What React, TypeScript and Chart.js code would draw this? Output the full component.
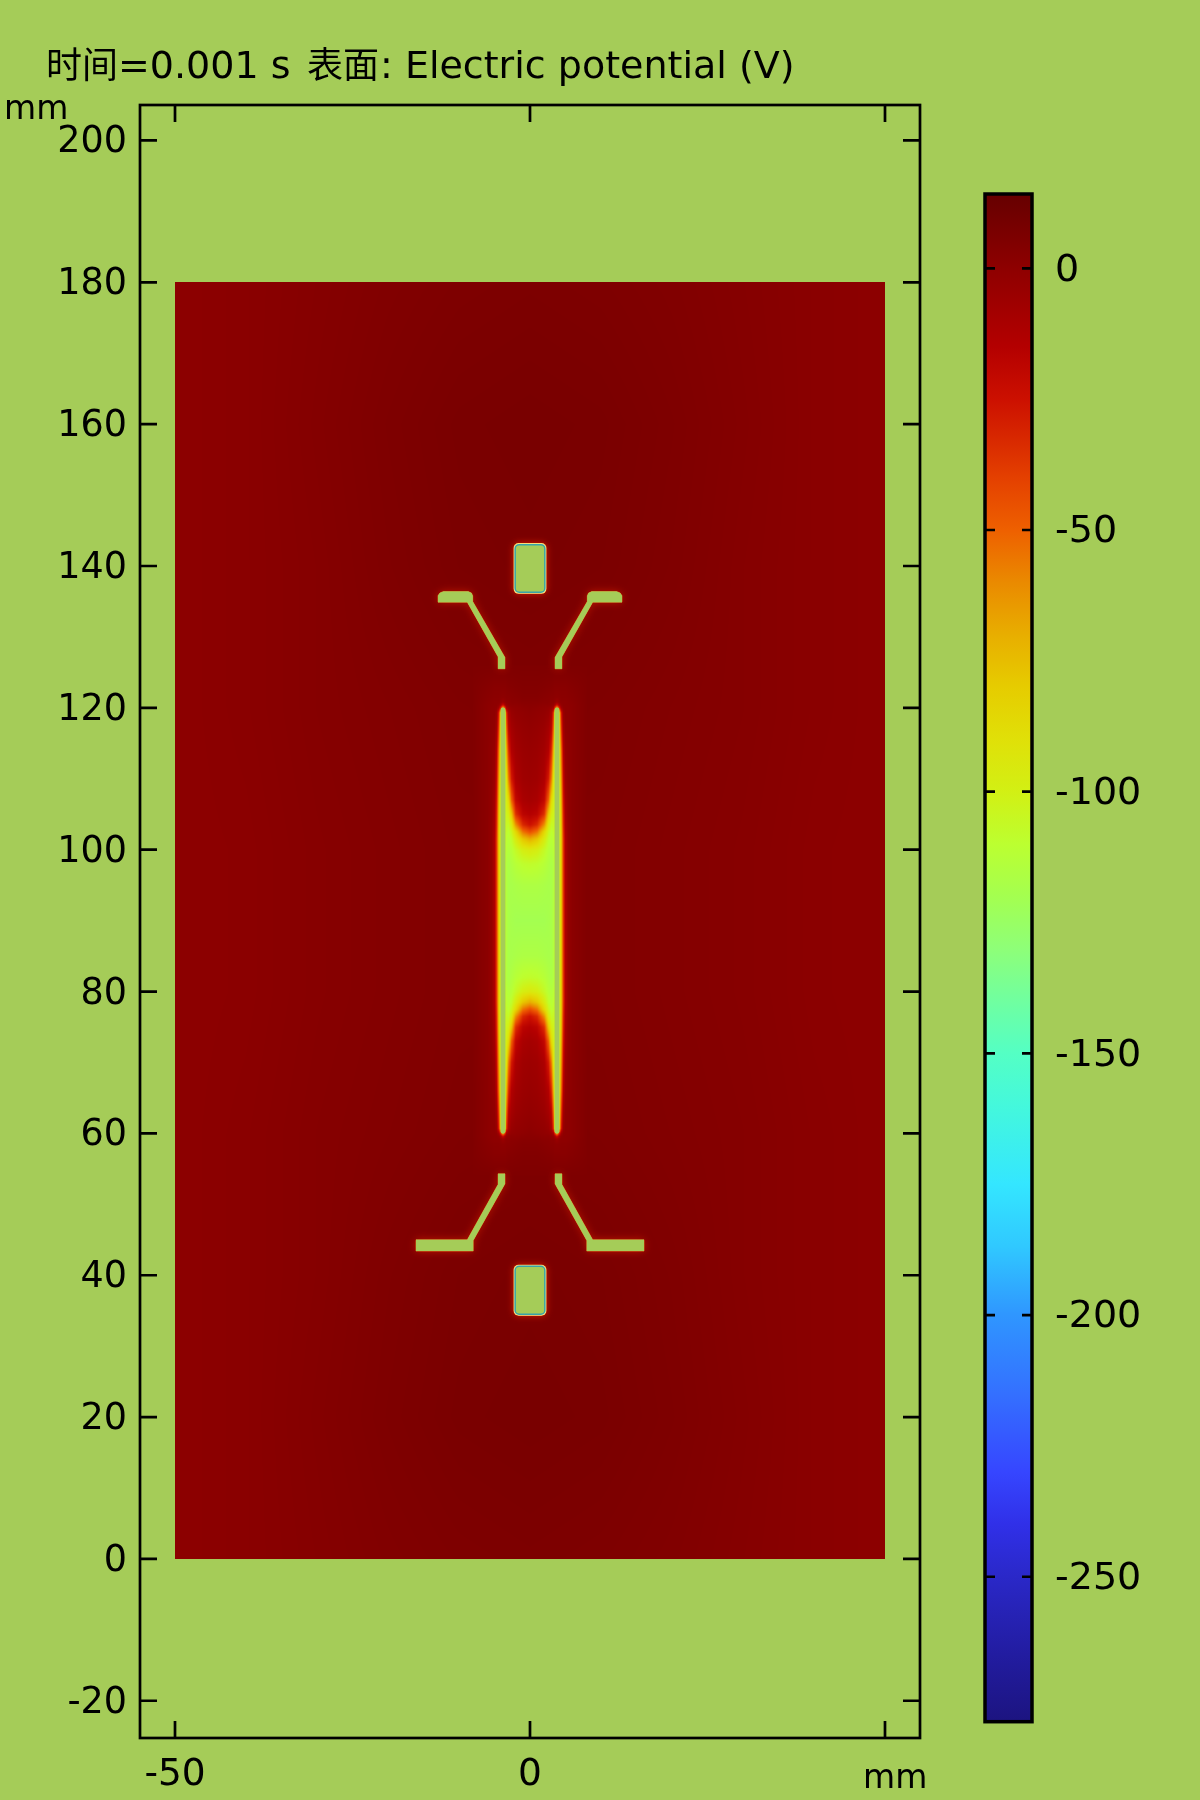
import React, { useEffect, useRef } from "react";
import { Chart, registerables } from "chart.js";

Chart.register(...registerables);

const BG = "#a5cc58";
const FONT = "'DejaVu Sans', 'Noto Sans CJK SC', sans-serif";
const CJK_FONT = "'Noto Sans CJK SC', 'DejaVu Sans', sans-serif";
const TITLE_PARTS = [
  { text: "时间", cjk: true, px: 46 },
  { text: "=0.001 s", cjk: false, px: 118 },
  { text: "表面", cjk: true, px: 307 },
  { text: ": Electric potential (V)", cjk: false, px: 380 },
];
const UNIT = "mm";

const X_TICKS = [-50, 0, 50];
const X_LABELS = ["-50", "0", ""];
const Y_TICKS = [-20, 0, 20, 40, 60, 80, 100, 120, 140, 160, 180, 200];
const CB_TICKS = [-250, -200, -150, -100, -50, 0];

const CMAP_VALUES = [14.2, 7, 0, -15, -25, -40, -50, -60, -70, -80, -90, -100, -110, -120, -130, -140, -150, -160, -175, -187, -200, -215, -230, -240, -250, -265, -277.7];
const CMAP_COLORS = ["#660000", "#7a0000", "#8e0000", "#b40000", "#cc1000", "#e44000", "#ee6000", "#ea8a00", "#e8ae00", "#e6cc00", "#e0e008", "#d2f014", "#bcff30", "#a4ff50", "#8eff78", "#70ffa0", "#54ffc4", "#44f8dc", "#34e6ff", "#30c8ff", "#2f96ff", "#3470ff", "#3646ff", "#3030e8", "#2a28c8", "#221ca0", "#1c1480"];

// Background potential over the whole domain (V)
const BASE_X = [-50, -40, -30, -20, -10, 0, 10, 20, 30, 40, 50];
const BASE_Y = [0, 20, 40, 60, 80, 100, 120, 140, 160, 180];
const BASE_VALUES = [
  [0.5, 1.5, 3, 4.5, 5.5, 6, 5.5, 4.5, 3, 1.5, 0.5],
  [0.5, 1.5, 3.5, 5.5, 7, 7.5, 7, 5.5, 3.5, 1.5, 0.5],
  [0.5, 1.5, 3, 5, 6.5, 7, 6.5, 5, 3, 1.5, 0.5],
  [0.5, 1.5, 3, 4, 5, 5.5, 5, 4, 3, 1.5, 0.5],
  [0.5, 1, 2.5, 3.5, 4.5, 4.5, 4.5, 3.5, 2.5, 1, 0.5],
  [0.5, 1, 2.5, 3.5, 4.5, 4.5, 4.5, 3.5, 2.5, 1, 0.5],
  [0.5, 1.5, 3, 4, 5, 5.5, 5, 4, 3, 1.5, 0.5],
  [0.5, 1.5, 3, 5, 6.5, 7, 6.5, 5, 3, 1.5, 0.5],
  [0.5, 1.5, 3.5, 5.5, 7, 7.5, 7, 5.5, 3.5, 1.5, 0.5],
  [0.5, 1.5, 3, 4.5, 5.5, 6, 5.5, 4.5, 3, 1.5, 0.5],
];

// Potential around the two central rods, by |x| and by distance from y = 90 mm
const CORE_X = [0, 1, 2, 2.6, 3.0, 3.3, 3.45, 3.8, 4.15, 4.4, 4.7, 5.0, 5.4, 6, 8];
const CORE_D = [0, 5, 8, 10, 11.5, 12.5, 13.5, 15, 17, 20, 24, 27, 29.3, 30, 30.4, 30.8, 31.5, 33, 36];
const CORE_VALUES = [
  [-120, -120, -120, -119, -118, -115, -110, -108, -100, -80, -38, -12, -3, 1, 4.5],
  [-116, -116, -117, -118, -118, -115, -110, -108, -100, -80, -38, -12, -3, 1, 4.5],
  [-108, -109, -112, -115, -117, -115, -110, -108, -100, -80, -38, -12, -3, 1, 4.5],
  [-95, -98, -106, -112, -114, -112, -108, -105, -100, -80, -38, -12, -3, 1, 4.5],
  [-70, -78, -96, -108, -112, -110, -106, -105, -100, -80, -38, -12, -3, 1, 4.5],
  [-45, -55, -85, -103, -110, -108, -105, -105, -100, -80, -36, -11, -3, 1, 4.5],
  [-25, -33, -62, -95, -106, -105, -103, -105, -100, -78, -34, -10, -3, 1, 4.5],
  [-15, -18, -35, -78, -98, -102, -102, -105, -100, -76, -32, -9, -2, 1, 4.5],
  [-9, -11, -20, -50, -85, -98, -100, -105, -100, -72, -28, -8, -2, 1, 4.5],
  [-6, -7, -12, -28, -55, -90, -98, -105, -96, -65, -22, -5, -1, 1, 4.5],
  [-4, -5, -8, -14, -32, -70, -93, -105, -92, -55, -15, -3, -1, 1, 4.8],
  [-2, -3, -5, -9, -16, -50, -85, -100, -85, -40, -8, -1, 0, 1, 4.8],
  [0, -1, -2, -4, -10, -35, -78, -98, -78, -30, -4, 0, 0, 1, 4.8],
  [1, 0, -1, -2, -4, -10, -30, -70, -30, -8, -1, 0, 0, 1, 4.8],
  [1.5, 1, 0, 0, -1, -3, -8, -25, -8, -2, 0, 0, 0.5, 1, 4.8],
  [2, 2, 1, 1, 0, 0, -1, -5, -1, 0, 0, 0, 0.5, 1.5, 4.8],
  [3, 3, 2, 1.5, 1, 1, 0.5, 0, 0.5, 1, 1, 1, 1.5, 2, 4.8],
  [4, 4, 3.5, 3, 3, 2.5, 2, 2, 2, 2, 2, 2, 2.5, 3, 4.8],
  [5.5, 5.5, 5.5, 5.5, 5.5, 5.5, 5.5, 5.5, 5.5, 5.5, 5.5, 5.5, 5.5, 5.5, 5.5],
];

const DOMAIN_X = [-50, 50];
const DOMAIN_Y = [0, 180];

// Geometry holes (mm)
const ROD_L = [{ x: -3.8, y: 60.3 }, { x: -3.8, y: 119.7 }];
const ROD_R = [{ x: 3.8, y: 60.3 }, { x: 3.8, y: 119.7 }];
const TOP_L = [[-12.96, 134.9], [-12.96, 135.8], [-12.7, 136.2], [-12.2, 136.4], [-8.7, 136.4], [-8.25, 136.2], [-8.07, 135.8], [-8.07, 135], [-3.52, 127.1], [-3.52, 125.5], [-4.5, 125.5], [-4.5, 127.2], [-8.83, 134.9]];
const TOP_R = [[12.96, 134.9], [12.96, 135.8], [12.7, 136.2], [12.2, 136.4], [8.7, 136.4], [8.25, 136.2], [8.07, 135.8], [8.07, 135], [3.52, 127.1], [3.52, 125.5], [4.5, 125.5], [4.5, 127.2], [8.83, 134.9]];
const LOW_L = [[-4.5, 54.3], [-3.52, 54.3], [-3.52, 52.9], [-8, 44.9], [-8, 43.4], [-16.06, 43.4], [-16.06, 45], [-8.83, 45], [-4.5, 52.8]];
const LOW_R = [[4.5, 54.3], [3.52, 54.3], [3.52, 52.9], [8, 44.9], [8, 43.4], [16.06, 43.4], [16.06, 45], [8.83, 45], [4.5, 52.8]];
const ELEC_TOP = [[-2.09, 136.3], [2.09, 136.3], [2.09, 143], [-2.09, 143]];
const ELEC_LOW = [[-2.09, 34.5], [2.09, 34.5], [2.09, 41.25], [-2.09, 41.25]];

const hexRgb = (h: string) => [parseInt(h.slice(1, 3), 16), parseInt(h.slice(3, 5), 16), parseInt(h.slice(5, 7), 16)];
const CMAP_RGB = CMAP_COLORS.map(hexRgb);

function colorOf(v: number) {
  if (v >= CMAP_VALUES[0]) return CMAP_RGB[0];
  for (let i = 1; i < CMAP_VALUES.length; i++) {
    if (v >= CMAP_VALUES[i]) {
      const t = (CMAP_VALUES[i - 1] - v) / (CMAP_VALUES[i - 1] - CMAP_VALUES[i]);
      const a = CMAP_RGB[i - 1];
      const b = CMAP_RGB[i];
      return [a[0] + (b[0] - a[0]) * t, a[1] + (b[1] - a[1]) * t, a[2] + (b[2] - a[2]) * t];
    }
  }
  return CMAP_RGB[CMAP_RGB.length - 1];
}

function locate(axis: number[], v: number) {
  let i = 0;
  while (i < axis.length - 2 && v > axis[i + 1]) i++;
  const t = Math.max(0, Math.min(1, (v - axis[i]) / (axis[i + 1] - axis[i])));
  return [i, t];
}

function sampleTable(xs: number[], ys: number[], table: number[][], x: number, y: number) {
  const [i, u] = locate(xs, x);
  const [j, w] = locate(ys, y);
  const a = table[j][i] * (1 - u) + table[j][i + 1] * u;
  const b = table[j + 1][i] * (1 - u) + table[j + 1][i + 1] * u;
  return a * (1 - w) + b * w;
}

function potential(x: number, y: number) {
  const ax = Math.abs(x);
  const d = Math.abs(y - 90);
  if (ax <= 8 && d <= 36) return sampleTable(CORE_X, CORE_D, CORE_VALUES, ax, d);
  return sampleTable(BASE_X, BASE_Y, BASE_VALUES, x, y);
}

const fieldPlugin = {
  id: "field",
  beforeDatasetsDraw(chart: any) {
    const { ctx, scales } = chart;
    const { x: sx, y: sy } = scales;
    const l = Math.round(sx.getPixelForValue(DOMAIN_X[0]));
    const r = Math.round(sx.getPixelForValue(DOMAIN_X[1]));
    const t = Math.round(sy.getPixelForValue(DOMAIN_Y[1]));
    const b = Math.round(sy.getPixelForValue(DOMAIN_Y[0]));
    const w = r - l;
    const h = b - t;
    const off = document.createElement("canvas");
    off.width = w;
    off.height = h;
    const oc = off.getContext("2d")!;
    const img = oc.createImageData(w, h);
    for (let py = 0; py < h; py++) {
      const vy = sy.getValueForPixel(t + py + 0.5);
      for (let px = 0; px < w; px++) {
        const vx = sx.getValueForPixel(l + px + 0.5);
        const c = colorOf(potential(vx, vy));
        const k = (py * w + px) * 4;
        img.data[k] = c[0];
        img.data[k + 1] = c[1];
        img.data[k + 2] = c[2];
        img.data[k + 3] = 255;
      }
    }
    oc.putImageData(img, 0, 0);
    ctx.drawImage(off, l, t);
  },
  afterDatasetsDraw(chart: any) {
    const { ctx } = chart;
    chart.data.datasets.forEach((ds: any, idx: number) => {
      if (!ds.hole) return;
      const pts = chart.getDatasetMeta(idx).data;
      ctx.save();
      ctx.lineJoin = "round";
      if (ds.hole === "polygon") {
        const path = () => {
          ctx.beginPath();
          pts.forEach((p: any, i: number) => (i ? ctx.lineTo(p.x, p.y) : ctx.moveTo(p.x, p.y)));
          ctx.closePath();
        };
        ctx.shadowColor = "rgba(235,40,0,0.6)";
        ctx.shadowBlur = 9;
        path();
        ctx.fillStyle = BG;
        ctx.fill();
        ctx.shadowBlur = 0;
        ctx.shadowColor = "transparent";
        path();
        ctx.strokeStyle = "rgba(240,150,40,0.55)";
        ctx.lineWidth = 1;
        ctx.stroke();
        path();
        ctx.fill();
      } else {
        const xs = pts.map((p: any) => p.x);
        const ys = pts.map((p: any) => p.y);
        const l = Math.min(...xs);
        const t = Math.min(...ys);
        const w = Math.max(...xs) - l;
        const h = Math.max(...ys) - t;
        const path = (g: number, r: number) => {
          ctx.beginPath();
          ctx.roundRect(l - g, t - g, w + 2 * g, h + 2 * g, r);
        };
        ctx.shadowColor = "rgba(240,40,0,0.75)";
        ctx.shadowBlur = 7;
        path(1.6, 5);
        ctx.fillStyle = "#ffd76a";
        ctx.fill();
        ctx.shadowBlur = 0;
        ctx.shadowColor = "transparent";
        path(0.9, 4.5);
        ctx.fillStyle = "#f2f0a0";
        ctx.fill();
        path(0, 4);
        ctx.fillStyle = BG;
        ctx.fill();
        ctx.strokeStyle = "#38a4a8";
        ctx.lineWidth = 1.5;
        ctx.stroke();
      }
      ctx.restore();
    });
  },
  afterDraw(chart: any) {
    const { ctx, chartArea: a, scales } = chart;
    ctx.save();
    ctx.strokeStyle = "#000";
    ctx.lineWidth = 2.7;
    ctx.lineCap = "butt";
    ctx.beginPath();
    scales.y.ticks.forEach((t: any) => {
      const p = scales.y.getPixelForValue(t.value);
      ctx.moveTo(a.left, p);
      ctx.lineTo(a.left + 17, p);
      ctx.moveTo(a.right, p);
      ctx.lineTo(a.right - 17, p);
    });
    scales.x.ticks.forEach((t: any) => {
      const p = scales.x.getPixelForValue(t.value);
      ctx.moveTo(p, a.top);
      ctx.lineTo(p, a.top + 17);
      ctx.moveTo(p, a.bottom);
      ctx.lineTo(p, a.bottom - 17);
    });
    ctx.stroke();
    ctx.strokeRect(a.left, a.top, a.right - a.left, a.bottom - a.top);
    ctx.fillStyle = "#000";
    ctx.textBaseline = "alphabetic";
    ctx.textAlign = "left";
    TITLE_PARTS.forEach((part) => {
      ctx.font = part.cjk ? `36px ${CJK_FONT}` : `38px ${FONT}`;
      ctx.fillText(part.text, part.px, 78);
    });
    ctx.font = `33px ${FONT}`;
    ctx.fillText(UNIT, 4, 119);
    ctx.fillText(UNIT, 863, 1788);
    ctx.restore();
  },
};

const colorbarPlugin = {
  id: "colorbarFrame",
  afterDraw(chart: any) {
    const { ctx, chartArea: a, scales } = chart;
    ctx.save();
    ctx.strokeStyle = "#000";
    ctx.lineWidth = 2.7;
    ctx.beginPath();
    scales.y.ticks.forEach((t: any) => {
      const p = scales.y.getPixelForValue(t.value);
      ctx.moveTo(a.left, p);
      ctx.lineTo(a.left + 10, p);
      ctx.moveTo(a.right, p);
      ctx.lineTo(a.right - 10, p);
    });
    ctx.stroke();
    ctx.lineWidth = 3.5;
    ctx.strokeRect(a.left, a.top, a.right - a.left, a.bottom - a.top);
    ctx.restore();
  },
};

const toPts = (a: number[][]) => a.map(([x, y]) => ({ x, y }));

export default function App() {
  const mainRef = useRef<HTMLCanvasElement>(null);
  const barRef = useRef<HTMLCanvasElement>(null);

  useEffect(() => {
    const rod = (data: any[]) => ({
      data,
      showLine: true,
      borderColor: BG,
      borderWidth: 4.8,
      borderCapStyle: "round",
      pointRadius: 0,
      fill: false,
    });
    const hole = (data: number[][], kind: string) => ({
      data: toPts(data),
      hole: kind,
      showLine: false,
      pointRadius: 0,
    });
    const main = new Chart(mainRef.current!, {
      type: "scatter",
      data: {
        datasets: [
          rod(ROD_L),
          rod(ROD_R),
          hole(TOP_L, "polygon"),
          hole(TOP_R, "polygon"),
          hole(LOW_L, "polygon"),
          hole(LOW_R, "polygon"),
          hole(ELEC_TOP, "rounded"),
          hole(ELEC_LOW, "rounded"),
        ] as any,
      },
      options: {
        animation: false,
        responsive: false,
        devicePixelRatio: 1,
        layout: { autoPadding: false, padding: { left: 0, top: 105, right: 280, bottom: 0 } },
        plugins: { legend: { display: false }, tooltip: { enabled: false }, title: { display: false } },
        events: [],
        scales: {
          x: {
            type: "linear",
            min: -54.93,
            max: 54.93,
            grid: { display: false, drawTicks: false, tickLength: 0 },
            border: { display: false },
            afterBuildTicks: (s: any) => { s.ticks = X_TICKS.map((value) => ({ value })); },
            afterFit: (s: any) => { s.height = 62; },
            ticks: {
              autoSkip: false,
              maxRotation: 0,
              padding: 15,
              color: "#000",
              font: { family: FONT, size: 37.5 },
              callback: (v: any) => X_LABELS[X_TICKS.indexOf(Number(v))] ?? "",
            },
          },
          y: {
            type: "linear",
            min: -25.25,
            max: 205,
            grid: { display: false, drawTicks: false, tickLength: 0 },
            border: { display: false },
            afterBuildTicks: (s: any) => { s.ticks = Y_TICKS.map((value) => ({ value })); },
            afterFit: (s: any) => { s.width = 140; },
            ticks: {
              autoSkip: false,
              padding: 13,
              labelOffset: 2.5,
              color: "#000",
              font: { family: FONT, size: 36.5 },
              callback: (v: any) => String(v),
            },
          },
        },
      } as any,
      plugins: [fieldPlugin],
    });

    const bar = new Chart(barRef.current!, {
      type: "bar",
      data: {
        labels: ["V"],
        datasets: [
          {
            data: [[-277.7, 14.2]],
            barPercentage: 1,
            categoryPercentage: 1,
            borderWidth: 0,
            backgroundColor: (c: any) => {
              const { chartArea, scales, ctx } = c.chart;
              if (!chartArea) return "#000";
              const g = ctx.createLinearGradient(0, chartArea.top, 0, chartArea.bottom);
              const span = chartArea.bottom - chartArea.top;
              CMAP_VALUES.forEach((v, i) => {
                const p = (scales.y.getPixelForValue(v) - chartArea.top) / span;
                g.addColorStop(Math.max(0, Math.min(1, p)), CMAP_COLORS[i]);
              });
              return g;
            },
          },
        ] as any,
      },
      options: {
        animation: false,
        responsive: false,
        devicePixelRatio: 1,
        layout: { autoPadding: false, padding: { left: 985, top: 194, right: 0, bottom: 78.3 } },
        plugins: { legend: { display: false }, tooltip: { enabled: false } },
        events: [],
        scales: {
          x: { display: false },
          y: {
            position: "right",
            min: -277.7,
            max: 14.2,
            grid: { display: false, drawTicks: false, tickLength: 0 },
            border: { display: false },
            afterBuildTicks: (s: any) => { s.ticks = CB_TICKS.map((value) => ({ value })); },
            afterFit: (s: any) => { s.width = 168; },
            ticks: {
              autoSkip: false,
              padding: 23,
              labelOffset: 2.5,
              color: "#000",
              font: { family: FONT, size: 38 },
              callback: (v: any) => String(v),
            },
          },
        },
      } as any,
      plugins: [colorbarPlugin],
    });

    return () => {
      main.destroy();
      bar.destroy();
    };
  }, []);

  const abs: React.CSSProperties = { position: "absolute", left: 0, top: 0 };
  return (
    <div style={{ ...abs, width: 1200, height: 1800, background: BG, overflow: "hidden" }}>
      <canvas ref={mainRef} width={1200} height={1800} style={abs} />
      <canvas ref={barRef} width={1200} height={1800} style={abs} />
    </div>
  );
}
